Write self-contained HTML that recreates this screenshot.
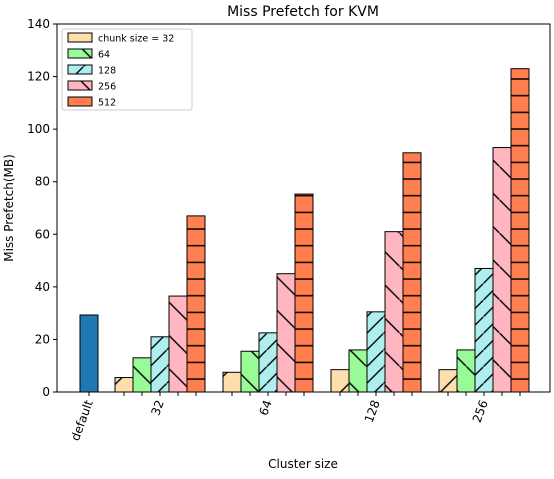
<!DOCTYPE html>
<html><head><meta charset="utf-8"><style>
body{margin:0;background:#fff;font-family:"Liberation Sans","DejaVu Sans",sans-serif}
svg text{font-family:"DejaVu Sans","Liberation Sans",sans-serif}
</style></head><body>
<svg id="c" width="554" height="474" xmlns="http://www.w3.org/2000/svg">
<defs>
<pattern id="h0" patternUnits="userSpaceOnUse" width="33.3" height="33.3"><path d="M-2,35.3 L35.3,-2" stroke="#000" stroke-width="1.4"/></pattern>
<pattern id="h1" patternUnits="userSpaceOnUse" width="33.3" height="33.3"><path d="M-2,-2 L35.3,35.3" stroke="#000" stroke-width="1.4"/></pattern>
<pattern id="h2" patternUnits="userSpaceOnUse" width="16.67" height="16.67"><path d="M-2,18.67 L18.67,-2" stroke="#000" stroke-width="1.4"/></pattern>
<pattern id="h3" patternUnits="userSpaceOnUse" width="33.3" height="33.3"><path d="M-2,-2 L35.3,35.3" stroke="#000" stroke-width="1.4"/></pattern>
<pattern id="h4" patternUnits="userSpaceOnUse" width="16.67" height="16.67" y="4"><path d="M0,8.33 L16.67,8.33" stroke="#000" stroke-width="1.4"/></pattern>
</defs>
<g id="g"></g>
</svg>
<script>
const groups = ["32","64","128","256"];
const seriesNames = ["chunk size = 32","64","128","256","512"];
const defaultValue = 29.3;
const s32 = [5.5, 7.5, 8.5, 8.5];
const s64 = [13, 15.5, 16, 16];
const s128 = [21, 22.5, 30.5, 47];
const s256 = [36.5, 45, 61, 93];
const s512 = [67, 75.3, 91, 123];
const yTicks = [0,20,40,60,80,100,120,140];
const series = [s32,s64,s128,s256,s512];
const colors = ["#ffdead","#98fb98","#afeeee","#ffb6c1","#ff7f50"];
const NS="http://www.w3.org/2000/svg";
const g=document.getElementById('g');
const L=57,R=550,T=24,B=392;
const y=v=>B-(v/140)*(B-T);
const bw=18;
const gx=i=>160+108*i;
function el(t,a,p){const e=document.createElementNS(NS,t);for(const k in a)e.setAttribute(k,a[k]);(p||g).appendChild(e);return e;}
function txt(x,yy,s,a){const e=el('text',Object.assign({x:x,y:yy,'font-size':12,fill:'#000'},a||{}));e.textContent=s;return e;}
let d=el('rect',{x:89-bw/2,y:y(defaultValue),width:bw,height:B-y(defaultValue),fill:'#1f77b4',stroke:'#000','stroke-width':1});


series.forEach((s,si)=>{
  s.forEach((v,gi)=>{
    const cx=gx(gi)+(si-2)*bw;
    el('rect',{x:cx-bw/2,y:y(v),width:bw,height:B-y(v),fill:colors[si],stroke:'none'});
    const h=el('rect',{x:cx-bw/2,y:y(v),width:bw,height:B-y(v),fill:'url(#h'+si+')',stroke:'#000','stroke-width':1});
    
    
    el('line',{x1:cx,x2:cx,y1:B,y2:B+4,stroke:'#000'});
  });
});
el('rect',{x:L,y:T,width:R-L,height:B-T,fill:'none',stroke:'#000','stroke-width':1});
yTicks.forEach(t=>{
  el('line',{x1:L-4,x2:L,y1:y(t),y2:y(t),stroke:'#000'});
  const e=txt(L-7,y(t)+4,String(t),{'text-anchor':'end','font-size':12});
  
  
});
const xl=[["default",89]].concat(groups.map((n,i)=>[n,gx(i)]));
xl.forEach(([n,x])=>{
  el('line',{x1:x,x2:x,y1:B,y2:B+4,stroke:'#000'});
  const e=txt(0,0,n,{'text-anchor':'end','font-size':12,transform:`translate(${x+4},${B+10}) rotate(-70)`});
  
  
});
let t=txt(303,16,"Miss Prefetch for KVM",{'text-anchor':'middle','font-size':14});

t=txt(303,468,"Cluster size",{'text-anchor':'middle','font-size':12});

t=txt(0,0,"Miss Prefetch(MB)",{'text-anchor':'middle','font-size':12,transform:'translate(13,208) rotate(-90)'});

const lg=el('g',{});


el('rect',{x:62,y:29,width:130,height:81,fill:'#fff',stroke:'#ccc',rx:2},lg);
seriesNames.forEach((n,i)=>{
  const yy=33+i*16;
  el('rect',{x:68,y:yy,width:24,height:9,fill:colors[i]},lg);
  el('rect',{x:68,y:yy,width:24,height:9,fill:'url(#h'+i+')',stroke:'#000'},lg);
  const e=el('text',{x:98,y:yy+8.5,'font-size':9.5},lg);e.textContent=n;
  
  
});
</script>
</body></html>
